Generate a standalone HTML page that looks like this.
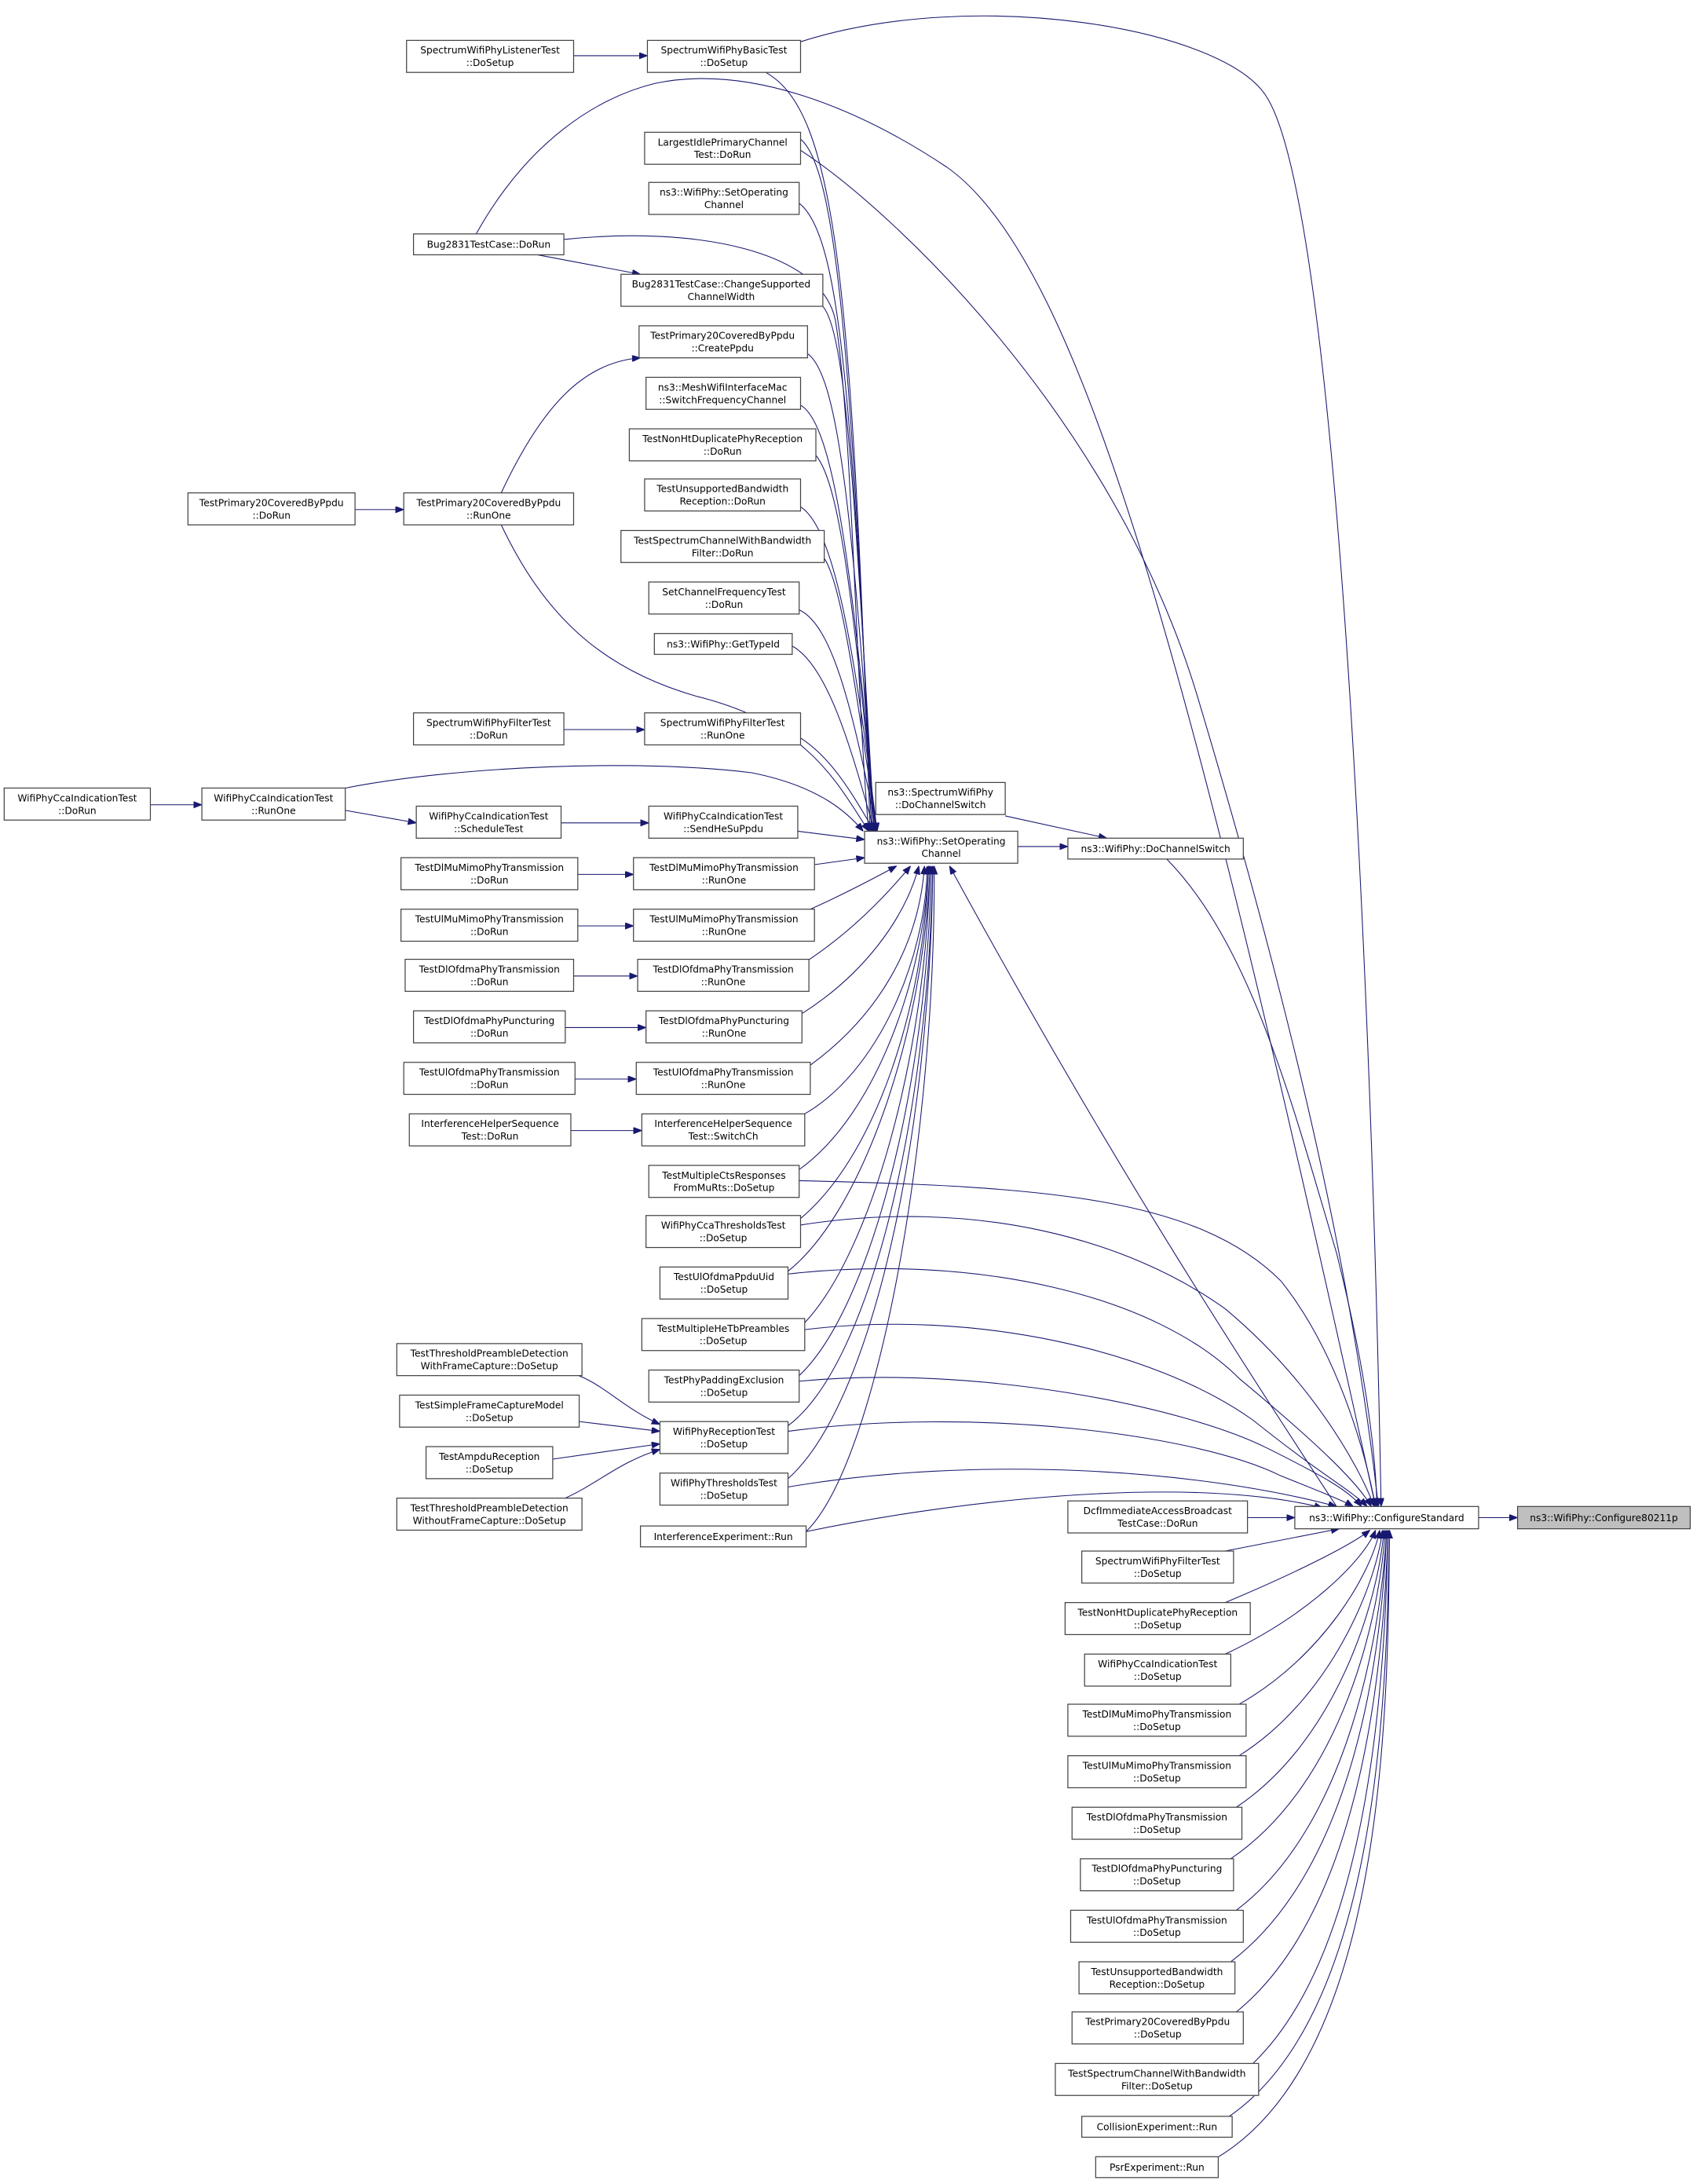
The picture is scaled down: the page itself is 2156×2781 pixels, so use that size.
<!DOCTYPE html>
<html><head><meta charset="utf-8"><style>
html,body{margin:0;padding:0;background:#fff}
svg{display:block}
text{font-family:"DejaVu Sans",sans-serif;font-size:6.9px;fill:#000;text-anchor:middle}
rect{fill:#fff;stroke:#444;stroke-width:0.7}
path{fill:none;stroke:#191970;stroke-width:0.6}
</style></head><body>
<svg width="2156" height="2781" viewBox="0 0 1216 1568.6" preserveAspectRatio="none" xmlns="http://www.w3.org/2000/svg">
<defs><marker id="a" markerUnits="userSpaceOnUse" markerWidth="6" markerHeight="5" refX="6" refY="2.3" orient="auto"><path d="M0,0 L6,2.3 L0,4.6z" style="fill:#191970;stroke:#191970;stroke-width:0.5"/></marker></defs>
<g marker-end="url(#a)">
<path d="M412,40 L465,40"/>
<path d="M550,52 C600,80 612,200 625,597"/>
<path d="M575,30 C700,-10 880,20 910,70 C960,150 985,700 992,1082"/>
<path d="M386,183 L460,197"/>
<path d="M405,172 C500,162 590,180 600,230 C612,300 615,500 624,597"/>
<path d="M342,168 C380,100 430,70 470,60 C540,45 620,80 680,120 C780,190 860,500 988,1082"/>
<path d="M575,100 C600,120 612,250 626,597"/>
<path d="M575,108 C640,150 800,300 860,500 C920,700 970,900 990,1082"/>
<path d="M574,146 C605,170 612,300 627,597"/>
<path d="M591,220 C608,240 614,360 628,597"/>
<path d="M580,254 C603,270 613,380 628,597"/>
<path d="M575,291 C600,305 613,420 629,597"/>
<path d="M586,327 C605,350 614,450 629,597"/>
<path d="M575,364 C600,380 614,470 630,597"/>
<path d="M592,401 C605,420 615,500 630,597"/>
<path d="M574,438 C600,450 614,520 630,597"/>
<path d="M569,464 C595,478 612,540 628,597"/>
<path d="M575,530 C598,545 612,570 628,597"/>
<path d="M255,366 L290,366"/>
<path d="M360,354 C390,290 420,260 460,257"/>
<path d="M360,377 C390,440 430,480 500,500 C580,520 600,560 624,597"/>
<path d="M405,524 L463,524"/>
<path d="M108,578 L145,578"/>
<path d="M248,566 C330,550 460,545 540,555 C590,565 610,585 620,597"/>
<path d="M248,582 L299,591"/>
<path d="M403,591 L466,591"/>
<path d="M573,597 L621,603"/>
<path d="M415,628 L455,628"/>
<path d="M585,621 L621,616"/>
<path d="M415,665 L455,665"/>
<path d="M582,653 C600,645 620,635 644,622"/>
<path d="M412,701 L458,701"/>
<path d="M580,690 C610,670 635,645 654,622"/>
<path d="M406,738 L464,738"/>
<path d="M576,728 C620,700 650,660 660,622"/>
<path d="M413,775 L457,775"/>
<path d="M582,765 C630,730 660,680 664,622"/>
<path d="M410,812 L461,812"/>
<path d="M578,800 C630,770 665,690 666,622"/>
<path d="M574,840 C630,800 664,700 667,622"/>
<path d="M574,876 C630,830 664,720 667,622"/>
<path d="M566,913 C620,870 664,740 668,622"/>
<path d="M578,950 C625,900 665,760 668,622"/>
<path d="M574,988 C625,940 666,780 669,622"/>
<path d="M566,1024 C625,980 667,800 670,622"/>
<path d="M566,1062 C625,1010 668,820 670,622"/>
<path d="M579,1100 C630,1050 672,820 671,622"/>
<path d="M574,848 C750,852 860,860 920,920 C960,970 980,1040 988,1082"/>
<path d="M574,880 C700,860 810,890 880,940 C940,990 975,1050 987,1082"/>
<path d="M566,915 C700,900 830,930 890,990 C950,1040 975,1065 985,1082"/>
<path d="M578,955 C700,940 830,970 900,1020 C950,1060 970,1070 982,1082"/>
<path d="M574,992 C700,980 850,1010 910,1040 C950,1060 968,1070 978,1082"/>
<path d="M566,1028 C700,1010 860,1030 920,1060 C950,1072 965,1078 972,1082"/>
<path d="M566,1068 C700,1045 860,1055 960,1082"/>
<path d="M579,1100 C700,1075 860,1060 950,1083"/>
<path d="M406,985 C430,990 445,1010 474,1023"/>
<path d="M416,1021 L474,1028"/>
<path d="M397,1048 L474,1037"/>
<path d="M406,1076 C430,1065 445,1050 474,1041"/>
<path d="M722,586 L795,602"/>
<path d="M731,608 L767,608"/>
<path d="M838,617 C900,680 930,800 960,900 C980,980 988,1040 989,1082"/>
<path d="M960,1082 C880,960 790,820 682,622"/>
<path d="M896,1090 L930,1090"/>
<path d="M1062,1090 L1090,1090"/>
<path d="M880,1114 L962,1098"/>
<path d="M880,1151 C930,1130 970,1110 984,1099"/>
<path d="M880,1188 C940,1160 980,1120 988,1099"/>
<path d="M890,1224 C950,1190 985,1130 991,1099"/>
<path d="M890,1261 C955,1220 988,1140 993,1099"/>
<path d="M888,1298 C960,1250 990,1150 994,1099"/>
<path d="M884,1335 C965,1280 991,1160 995,1099"/>
<path d="M888,1372 C970,1310 992,1170 996,1099"/>
<path d="M884,1409 C975,1340 993,1180 996,1099"/>
<path d="M888,1445 C980,1370 994,1190 997,1099"/>
<path d="M900,1482 C985,1400 995,1200 997,1099"/>
<path d="M880,1522 C990,1450 996,1220 998,1099"/>
<path d="M872,1551 C995,1480 997,1230 998,1099"/>
</g>
<g>
<rect x="292" y="29" width="120" height="23"/><text x="352" y="38.5">SpectrumWifiPhyListenerTest</text><text x="352" y="47.5">::DoSetup</text>
<rect x="465" y="29" width="110" height="23"/><text x="520" y="38.5">SpectrumWifiPhyBasicTest</text><text x="520" y="47.5">::DoSetup</text>
<rect x="463" y="95" width="112" height="23"/><text x="519" y="104.5">LargestIdlePrimaryChannel</text><text x="519" y="113.5">Test::DoRun</text>
<rect x="466" y="131" width="108" height="23"/><text x="520" y="140.5">ns3::WifiPhy::SetOperating</text><text x="520" y="149.5">Channel</text>
<rect x="297" y="168" width="108" height="15"/><text x="351" y="178">Bug2831TestCase::DoRun</text>
<rect x="446" y="197" width="145" height="23"/><text x="518" y="206.5">Bug2831TestCase::ChangeSupported</text><text x="518" y="215.5">ChannelWidth</text>
<rect x="459" y="234" width="121" height="23"/><text x="519" y="243.5">TestPrimary20CoveredByPpdu</text><text x="519" y="252.5">::CreatePpdu</text>
<rect x="464" y="271" width="111" height="23"/><text x="519" y="280.5">ns3::MeshWifiInterfaceMac</text><text x="519" y="289.5">::SwitchFrequencyChannel</text>
<rect x="452" y="308" width="134" height="23"/><text x="519" y="317.5">TestNonHtDuplicatePhyReception</text><text x="519" y="326.5">::DoRun</text>
<rect x="463" y="344" width="112" height="23"/><text x="519" y="353.5">TestUnsupportedBandwidth</text><text x="519" y="362.5">Reception::DoRun</text>
<rect x="135" y="354" width="120" height="23"/><text x="195" y="363.5">TestPrimary20CoveredByPpdu</text><text x="195" y="372.5">::DoRun</text>
<rect x="290" y="354" width="122" height="23"/><text x="351" y="363.5">TestPrimary20CoveredByPpdu</text><text x="351" y="372.5">::RunOne</text>
<rect x="446" y="381" width="146" height="23"/><text x="519" y="390.5">TestSpectrumChannelWithBandwidth</text><text x="519" y="399.5">Filter::DoRun</text>
<rect x="466" y="418" width="108" height="23"/><text x="520" y="427.5">SetChannelFrequencyTest</text><text x="520" y="436.5">::DoRun</text>
<rect x="470" y="455" width="99" height="15"/><text x="519.5" y="465">ns3::WifiPhy::GetTypeId</text>
<rect x="297" y="512" width="108" height="23"/><text x="351" y="521.5">SpectrumWifiPhyFilterTest</text><text x="351" y="530.5">::DoRun</text>
<rect x="463" y="512" width="112" height="23"/><text x="519" y="521.5">SpectrumWifiPhyFilterTest</text><text x="519" y="530.5">::RunOne</text>
<rect x="3" y="566" width="105" height="23"/><text x="55.5" y="575.5">WifiPhyCcaIndicationTest</text><text x="55.5" y="584.5">::DoRun</text>
<rect x="145" y="566" width="103" height="23"/><text x="196.5" y="575.5">WifiPhyCcaIndicationTest</text><text x="196.5" y="584.5">::RunOne</text>
<rect x="299" y="579" width="104" height="23"/><text x="351" y="588.5">WifiPhyCcaIndicationTest</text><text x="351" y="597.5">::ScheduleTest</text>
<rect x="466" y="579" width="107" height="23"/><text x="519.5" y="588.5">WifiPhyCcaIndicationTest</text><text x="519.5" y="597.5">::SendHeSuPpdu</text>
<rect x="629" y="562" width="93" height="23"/><text x="675.5" y="571.5">ns3::SpectrumWifiPhy</text><text x="675.5" y="580.5">::DoChannelSwitch</text>
<rect x="621" y="597" width="110" height="23"/><text x="676" y="606.5">ns3::WifiPhy::SetOperating</text><text x="676" y="615.5">Channel</text>
<rect x="767" y="602" width="126" height="15"/><text x="830" y="612">ns3::WifiPhy::DoChannelSwitch</text>
<rect x="288" y="616" width="127" height="23"/><text x="351.5" y="625.5">TestDlMuMimoPhyTransmission</text><text x="351.5" y="634.5">::DoRun</text>
<rect x="455" y="616" width="130" height="23"/><text x="520" y="625.5">TestDlMuMimoPhyTransmission</text><text x="520" y="634.5">::RunOne</text>
<rect x="288" y="653" width="127" height="23"/><text x="351.5" y="662.5">TestUlMuMimoPhyTransmission</text><text x="351.5" y="671.5">::DoRun</text>
<rect x="455" y="653" width="130" height="23"/><text x="520" y="662.5">TestUlMuMimoPhyTransmission</text><text x="520" y="671.5">::RunOne</text>
<rect x="291" y="689" width="121" height="23"/><text x="351.5" y="698.5">TestDlOfdmaPhyTransmission</text><text x="351.5" y="707.5">::DoRun</text>
<rect x="458" y="689" width="123" height="23"/><text x="519.5" y="698.5">TestDlOfdmaPhyTransmission</text><text x="519.5" y="707.5">::RunOne</text>
<rect x="297" y="726" width="109" height="23"/><text x="351.5" y="735.5">TestDlOfdmaPhyPuncturing</text><text x="351.5" y="744.5">::DoRun</text>
<rect x="464" y="726" width="112" height="23"/><text x="520" y="735.5">TestDlOfdmaPhyPuncturing</text><text x="520" y="744.5">::RunOne</text>
<rect x="290" y="763" width="123" height="23"/><text x="351.5" y="772.5">TestUlOfdmaPhyTransmission</text><text x="351.5" y="781.5">::DoRun</text>
<rect x="457" y="763" width="125" height="23"/><text x="519.5" y="772.5">TestUlOfdmaPhyTransmission</text><text x="519.5" y="781.5">::RunOne</text>
<rect x="294" y="800" width="116" height="23"/><text x="352" y="809.5">InterferenceHelperSequence</text><text x="352" y="818.5">Test::DoRun</text>
<rect x="461" y="800" width="117" height="23"/><text x="519.5" y="809.5">InterferenceHelperSequence</text><text x="519.5" y="818.5">Test::SwitchCh</text>
<rect x="466" y="837" width="108" height="23"/><text x="520" y="846.5">TestMultipleCtsResponses</text><text x="520" y="855.5">FromMuRts::DoSetup</text>
<rect x="464" y="873" width="111" height="23"/><text x="519.5" y="882.5">WifiPhyCcaThresholdsTest</text><text x="519.5" y="891.5">::DoSetup</text>
<rect x="474" y="910" width="92" height="23"/><text x="520" y="919.5">TestUlOfdmaPpduUid</text><text x="520" y="928.5">::DoSetup</text>
<rect x="461" y="947" width="117" height="23"/><text x="519.5" y="956.5">TestMultipleHeTbPreambles</text><text x="519.5" y="965.5">::DoSetup</text>
<rect x="285" y="965" width="133" height="23"/><text x="351.5" y="974.5">TestThresholdPreambleDetection</text><text x="351.5" y="983.5">WithFrameCapture::DoSetup</text>
<rect x="466" y="984" width="108" height="23"/><text x="520" y="993.5">TestPhyPaddingExclusion</text><text x="520" y="1002.5">::DoSetup</text>
<rect x="287" y="1002" width="129" height="23"/><text x="351.5" y="1011.5">TestSimpleFrameCaptureModel</text><text x="351.5" y="1020.5">::DoSetup</text>
<rect x="474" y="1021" width="92" height="23"/><text x="520" y="1030.5">WifiPhyReceptionTest</text><text x="520" y="1039.5">::DoSetup</text>
<rect x="306" y="1039" width="91" height="23"/><text x="351.5" y="1048.5">TestAmpduReception</text><text x="351.5" y="1057.5">::DoSetup</text>
<rect x="474" y="1058" width="92" height="23"/><text x="520" y="1067.5">WifiPhyThresholdsTest</text><text x="520" y="1076.5">::DoSetup</text>
<rect x="285" y="1076" width="133" height="23"/><text x="351.5" y="1085.5">TestThresholdPreambleDetection</text><text x="351.5" y="1094.5">WithoutFrameCapture::DoSetup</text>
<rect x="460" y="1096" width="119" height="15"/><text x="519.5" y="1106">InterferenceExperiment::Run</text>
<rect x="767" y="1078" width="129" height="23"/><text x="831.5" y="1087.5">DcfImmediateAccessBroadcast</text><text x="831.5" y="1096.5">TestCase::DoRun</text>
<rect x="930" y="1082" width="132" height="16"/><text x="996" y="1092.5">ns3::WifiPhy::ConfigureStandard</text>
<rect x="1090" y="1082" width="124" height="16" style="fill:#bfbfbf"/><text x="1152" y="1092.5">ns3::WifiPhy::Configure80211p</text>
<rect x="777" y="1114" width="109" height="23"/><text x="831.5" y="1123.5">SpectrumWifiPhyFilterTest</text><text x="831.5" y="1132.5">::DoSetup</text>
<rect x="765" y="1151" width="133" height="23"/><text x="831.5" y="1160.5">TestNonHtDuplicatePhyReception</text><text x="831.5" y="1169.5">::DoSetup</text>
<rect x="779" y="1188" width="105" height="23"/><text x="831.5" y="1197.5">WifiPhyCcaIndicationTest</text><text x="831.5" y="1206.5">::DoSetup</text>
<rect x="767" y="1224" width="128" height="23"/><text x="831" y="1233.5">TestDlMuMimoPhyTransmission</text><text x="831" y="1242.5">::DoSetup</text>
<rect x="767" y="1261" width="128" height="23"/><text x="831" y="1270.5">TestUlMuMimoPhyTransmission</text><text x="831" y="1279.5">::DoSetup</text>
<rect x="770" y="1298" width="122" height="23"/><text x="831" y="1307.5">TestDlOfdmaPhyTransmission</text><text x="831" y="1316.5">::DoSetup</text>
<rect x="776" y="1335" width="110" height="23"/><text x="831" y="1344.5">TestDlOfdmaPhyPuncturing</text><text x="831" y="1353.5">::DoSetup</text>
<rect x="769" y="1372" width="124" height="23"/><text x="831" y="1381.5">TestUlOfdmaPhyTransmission</text><text x="831" y="1390.5">::DoSetup</text>
<rect x="775" y="1409" width="112" height="23"/><text x="831" y="1418.5">TestUnsupportedBandwidth</text><text x="831" y="1427.5">Reception::DoSetup</text>
<rect x="770" y="1445" width="123" height="23"/><text x="831.5" y="1454.5">TestPrimary20CoveredByPpdu</text><text x="831.5" y="1463.5">::DoSetup</text>
<rect x="758" y="1482" width="146" height="23"/><text x="831" y="1491.5">TestSpectrumChannelWithBandwidth</text><text x="831" y="1500.5">Filter::DoSetup</text>
<rect x="777" y="1520" width="108" height="15"/><text x="831" y="1530">CollisionExperiment::Run</text>
<rect x="787" y="1549" width="88" height="15"/><text x="831" y="1559">PsrExperiment::Run</text>
</g>
</svg>
</body></html>
